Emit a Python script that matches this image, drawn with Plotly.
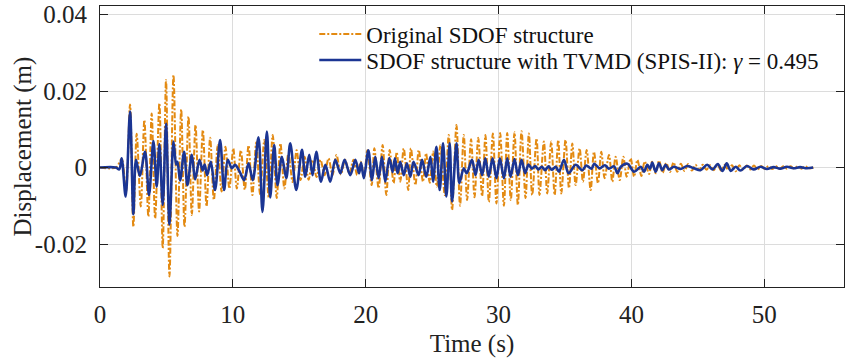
import plotly.graph_objects as go

# ---- Original SDOF structure: local extrema (time s, displacement m) ----
orig_peak_t = [1.63, 2.26, 2.76, 3.34, 3.89, 4.47, 4.97, 5.53, 6.11, 6.66, 7.19, 7.74, 8.29, 8.86, 9.44,
               10.03, 10.6, 11.18, 11.76, 12.37, 13.0, 13.58, 14.18, 14.8, 15.4, 16.0, 16.6, 17.2, 17.8,
               18.45, 19.08, 19.62, 20.12, 20.65, 21.27, 21.8, 22.33, 22.86, 23.4, 23.99, 24.54, 25.08,
               25.62, 26.25, 26.83, 27.38, 27.93, 28.47, 29.01, 29.57, 30.12, 30.65, 31.2, 31.73, 32.28,
               32.86, 33.41, 33.96, 34.49, 35.04, 35.55, 36.1, 36.63, 37.18, 37.73, 38.31, 38.81, 39.39,
               39.94, 40.45, 41.0, 41.55, 42.08, 42.62, 43.17, 43.72, 44.27, 44.82, 45.37, 45.92, 46.47,
               47.02, 47.57, 48.12, 48.67, 49.22, 49.77, 50.32, 50.87, 51.42, 51.97, 52.52, 53.07]
orig_peak_v = [0.0022, 0.0165, 0.0088, 0.0124, 0.0141, 0.0168, 0.0229, 0.0242, 0.0152, 0.0133, 0.0111,
               0.0098, 0.0078, 0.0058, 0.0054, 0.0050, 0.0045, 0.0058, 0.0066, 0.0072, 0.0085, 0.0063,
               0.0037, 0.0045, 0.0028, 0.0020, 0.0020, 0.0024, 0.0033, 0.0020, 0.0020, 0.0015, 0.0045,
               0.0050, 0.0059, 0.0046, 0.0040, 0.0050, 0.0050, 0.0046, 0.0037, 0.0042, 0.0059, 0.0085,
               0.0111, 0.0085, 0.0074, 0.0078, 0.0085, 0.0089, 0.0090, 0.0090, 0.0092, 0.0095, 0.0089,
               0.0076, 0.0068, 0.0068, 0.0072, 0.0072, 0.0063, 0.0050, 0.0046, 0.0041, 0.0041, 0.0033,
               0.0028, 0.0028, 0.0024, 0.0020, 0.0016, 0.0015, 0.0018, 0.0012, 0.0013, 0.0010, 0.0009,
               0.0007, 0.0007, 0.0006, 0.0008, 0.0007, 0.0006, 0.0006, 0.0005, 0.0005, 0.0004, 0.0004,
               0.0004, 0.0003, 0.0003, 0.0003, 0.0003]
orig_trough_t = [1.95, 2.51, 3.07, 3.64, 4.15, 4.72, 5.23, 5.83, 6.36, 6.91, 7.46, 8.02, 8.57, 9.15, 9.74,
                 10.3, 10.9, 11.47, 12.05, 12.7, 13.3, 13.88, 14.5, 15.1, 15.7, 16.3, 16.9, 17.5, 18.13,
                 18.76, 19.35, 19.88, 20.45, 20.97, 21.55, 22.1, 22.6, 23.2, 23.74, 24.31, 24.82, 25.35,
                 25.95, 26.5, 27.1, 27.63, 28.19, 28.76, 29.27, 29.84, 30.4, 30.92, 31.45, 32.03, 32.53,
                 33.08, 33.66, 34.22, 34.72, 35.3, 35.8, 36.35, 36.93, 37.48, 37.98, 38.56, 39.12, 39.64,
                 40.2, 40.75, 41.33, 41.83, 42.35, 42.9, 43.45, 44.0, 44.55, 45.1, 45.65, 46.2, 46.75,
                 47.3, 47.85, 48.4, 48.95, 49.5, 50.05, 50.6, 51.15, 51.7, 52.25, 52.8, 53.35]
orig_trough_v = [-0.0065, -0.0155, -0.0102, -0.0128, -0.0133, -0.0211, -0.0285, -0.0179, -0.0155,
                 -0.0124, -0.0115, -0.0102, -0.0085, -0.0063, -0.0055, -0.0055, -0.0058, -0.0072,
                 -0.0070, -0.0078, -0.0080, -0.0055, -0.0038, -0.0033, -0.0032, -0.0025, -0.0020,
                 -0.0020, -0.0018, -0.0016, -0.0020, -0.0025, -0.0046, -0.0054, -0.0072, -0.0041,
                 -0.0037, -0.0059, -0.0046, -0.0037, -0.0040, -0.0050, -0.0072, -0.0111, -0.0100,
                 -0.0085, -0.0078, -0.0075, -0.0090, -0.0094, -0.0100, -0.0085, -0.0098, -0.0080,
                 -0.0072, -0.0072, -0.0068, -0.0072, -0.0068, -0.0054, -0.0046, -0.0037, -0.0059,
                 -0.0041, -0.0028, -0.0037, -0.0033, -0.0024, -0.0024, -0.0022, -0.0017, -0.0015,
                 -0.0014, -0.0012, -0.0011, -0.0009, -0.0008, -0.0007, -0.0006, -0.0007, -0.0008,
                 -0.0007, -0.0010, -0.0006, -0.0005, -0.0005, -0.0004, -0.0004, -0.0004, -0.0003,
                 -0.0003, -0.0003, -0.0002]
orig_rest_t = [0.0, 1.2, 53.7]
orig_rest_v = [0.0, 0.0, 0.0]

# ---- SDOF structure with TVMD (SPIS-II): local extrema in time order ----
tvmd_t = [0.0, 1.2, 1.45, 1.63, 1.93, 2.26, 2.51, 2.71, 3.0, 3.39, 3.69, 4.02, 4.27, 4.47, 4.72, 4.97,
          5.23, 5.53, 5.73, 5.83, 6.03, 6.33, 6.58, 6.91, 7.16, 7.49, 7.72, 7.88, 8.06, 8.34, 8.66,
          9.04, 9.34, 9.62, 9.92, 10.17, 10.5, 10.85, 11.18, 11.5, 11.93, 12.23, 12.56, 12.81, 13.11,
          13.36, 13.69, 14.02, 14.32, 14.77, 15.2, 15.45, 15.75, 16.0, 16.28, 16.63, 16.96, 17.33,
          17.71, 18.09, 18.41, 18.84, 19.22, 19.5, 19.65, 19.86, 20.2, 20.47, 20.72, 20.97, 21.22,
          21.47, 21.78, 22.02, 22.2, 22.4, 22.6, 22.86, 23.1, 23.36, 23.6, 23.98, 24.24, 24.56, 24.87,
          25.07, 25.32, 25.57, 25.82, 26.07, 26.32, 26.5, 26.83, 27.05, 27.38, 27.6, 28.0, 28.26,
          28.5, 28.76, 29.0, 29.26, 29.55, 29.84, 30.1, 30.4, 30.65, 30.9, 31.2, 31.45, 31.73, 32.0,
          32.25, 32.5, 32.75, 33.0, 33.25, 33.5, 33.75, 34.0, 34.3, 34.55, 34.92, 35.27, 35.8, 36.3,
          36.6, 37.0, 37.2, 37.6, 38.0, 38.3, 38.7, 38.95, 39.2, 39.7, 40.2, 40.7, 40.94, 41.2, 41.4,
          41.57, 41.82, 42.07, 42.32, 42.57, 42.82, 43.2, 43.7, 44.2, 44.7, 45.2, 45.7, 46.1, 46.5,
          46.85, 47.17, 47.48, 47.85, 48.2, 48.7, 49.2, 49.7, 50.2, 50.7, 51.2, 51.7, 52.2, 52.7,
          53.2, 53.68]
tvmd_v = [0.0, 0.0, -0.0005, 0.0024, -0.0076, 0.0146, -0.0122, 0.0020, -0.0022, 0.0041, -0.0072,
          0.0069, -0.0050, 0.0061, -0.0098, 0.0114, -0.0149, 0.0068, 0.0008, 0.0015, -0.0034, 0.0041,
          -0.0046, 0.0033, -0.0031, 0.0020, -0.0008, 0.0008, -0.0020, 0.0015, -0.0059, 0.0072,
          -0.0059, 0.0020, -0.0002, 0.0007, -0.0010, -0.0033, 0.0011, -0.0033, 0.0079, -0.0116,
          0.0094, -0.0078, 0.0059, -0.0046, 0.0028, -0.0028, 0.0063, -0.0059, 0.0046, -0.0024,
          0.0033, -0.0020, 0.0041, -0.0037, 0.0007, -0.0037, 0.0020, -0.0015, 0.0020, -0.0020,
          0.0020, -0.0015, 0.0012, -0.0028, 0.0045, -0.0033, 0.0028, -0.0028, 0.0028, -0.0037,
          0.0025, -0.0012, 0.0024, -0.0015, 0.0015, -0.0020, 0.0011, -0.0024, 0.0015, -0.0020,
          0.0020, -0.0024, 0.0028, -0.0037, 0.0054, -0.0059, 0.0063, -0.0076, 0.0063, -0.0089,
          0.0063, -0.0041, -0.0002, -0.0015, 0.0020, -0.0020, 0.0020, -0.0020, 0.0024, -0.0024,
          0.0024, -0.0028, 0.0024, -0.0028, 0.0024, -0.0024, 0.0022, -0.0020, 0.0020, -0.0015,
          0.0008, -0.0003, 0.0004, -0.0005, 0.0002, -0.0007, 0.0003, -0.0006, 0.0002, -0.0011,
          0.0020, -0.0015, 0.0007, -0.0007, 0.0005, -0.0003, 0.0010, -0.0002, 0.0006, -0.0003,
          0.0003, -0.0015, 0.0002, 0.0010, -0.0011, 0.0002, -0.0011, 0.0007, -0.0003, 0.0013,
          -0.0011, 0.0011, -0.0007, 0.0007, -0.0005, 0.0002, -0.0004, 0.0004, -0.0002, -0.0007,
          0.0007, -0.0005, 0.0009, -0.0009, 0.0011, -0.0009, 0.0002, -0.0008, 0.0004, -0.0005,
          0.0002, -0.0004, 0.0001, -0.0003, 0.0002, -0.0002, 0.0001, -0.0002, 0.0]

x_ticks = [0, 10, 20, 30, 40, 50]
x_tick_labels = ["0", "10", "20", "30", "40", "50"]
y_ticks = [-0.02, 0, 0.02, 0.04]
y_tick_labels = ["-0.02", "0", "0.02", "0.04"]

name_orig = "Original SDOF structure"
name_tvmd = "SDOF structure with TVMD (SPIS-II): <i>γ</i> = 0.495"
x_title = "Time (s)"
y_title = "Displacement (m)"

# merge original extrema into one time-ordered series
orig_pts = sorted(zip(orig_peak_t + orig_trough_t + orig_rest_t,
                      orig_peak_v + orig_trough_v + orig_rest_v))
orig_t = [p[0] for p in orig_pts]
orig_v = [p[1] for p in orig_pts]

ORANGE = "#E38A12"
BLUE = "#1B3593"
FONT = "Liberation Serif, Times New Roman, Times, serif"
TXT = "#222222"

fig = go.Figure()
fig.add_trace(go.Scatter(x=orig_t, y=orig_v, mode="lines", name=name_orig, legend="legend",
                         line=dict(color=ORANGE, width=2, dash="6px,2px,2px,2px",
                                   shape="spline", smoothing=0.9)))
fig.add_trace(go.Scatter(x=tvmd_t, y=tvmd_v, mode="lines", name=name_tvmd, legend="legend2",
                         line=dict(color=BLUE, width=2.6, shape="spline", smoothing=0.9)))

axis_common = dict(showline=True, linecolor=TXT, linewidth=1.2, mirror="ticks",
                   ticks="inside", ticklen=8, tickcolor=TXT, tickwidth=1.2,
                   showgrid=True, gridcolor="#DCDCDC", gridwidth=1, zeroline=False,
                   tickfont=dict(family=FONT, size=25, color=TXT))

legend_common = dict(xanchor="left", yanchor="middle", bgcolor="rgba(0,0,0,0)", borderwidth=0,
                     font=dict(family=FONT, size=23, color="#111111"), itemwidth=42)

fig.update_layout(
    width=845, height=358,
    margin=dict(l=100, r=1, t=6, b=71),
    paper_bgcolor="white", plot_bgcolor="white",
    font=dict(family=FONT, size=22, color=TXT),
    showlegend=True,
    legend=dict(x=0.288, y=1 - (34 - 6) / 281, **legend_common),
    legend2=dict(x=0.288, y=1 - (60 - 6) / 281, **legend_common),
    xaxis=dict(range=[0, 56], tickmode="array", tickvals=x_ticks, ticktext=x_tick_labels,
               ticklabelstandoff=5,
               title=dict(text=x_title, font=dict(family=FONT, size=25, color=TXT), standoff=10),
               **axis_common),
    yaxis=dict(range=[-0.03124, 0.04222], tickmode="array", tickvals=y_ticks, ticktext=y_tick_labels,
               ticklabelstandoff=7, **axis_common),
    annotations=[dict(text=y_title, xref="paper", yref="paper", x=(22 - 100) / 744, y=0.5,
                      xanchor="center", yanchor="middle", textangle=-90, showarrow=False,
                      font=dict(family=FONT, size=25, color=TXT))],
)

fig.write_html("out.html")
